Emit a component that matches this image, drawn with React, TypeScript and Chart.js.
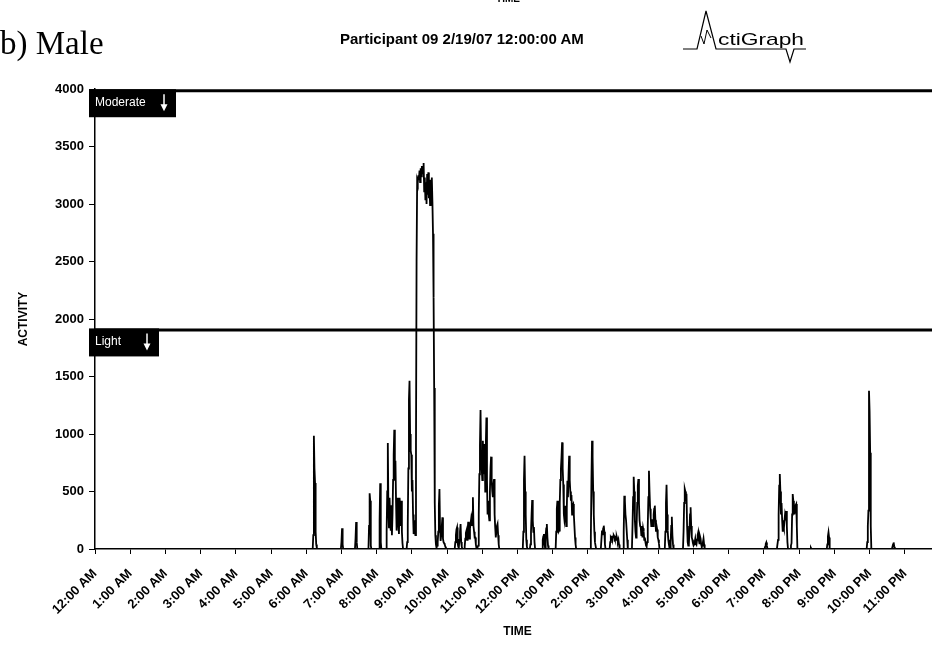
import React, { useEffect, useRef } from "react";
import { Chart, registerables } from "chart.js";

Chart.register(...registerables);

const HOUR_LABELS = [
  "12:00 AM", "1:00 AM", "2:00 AM", "3:00 AM", "4:00 AM", "5:00 AM",
  "6:00 AM", "7:00 AM", "8:00 AM", "9:00 AM", "10:00 AM", "11:00 AM",
  "12:00 PM", "1:00 PM", "2:00 PM", "3:00 PM", "4:00 PM", "5:00 PM",
  "6:00 PM", "7:00 PM", "8:00 PM", "9:00 PM", "10:00 PM", "11:00 PM",
];

const DAY_MINUTES = 1440;
const Y_MAX = 4000;
const Y_STEP = 500;

const LIGHT_CUTPOINT = 1905;
const MODERATE_CUTPOINT = 3985;
const CUTPOINT_LABELS = ["Light", "Moderate"];

// start minute of each burst of activity (1-minute epochs)
const BURST_STARTS = [
  372, 420, 444, 467, 485, 497, 532, 614, 630, 653, 730, 742, 763, 786,
  845, 863, 878, 901, 916, 972, 1003, 1142, 1163, 1186, 1220, 1248, 1316, 1359,
];

// activity counts of each burst, one value per minute
const BURST_COUNTS = [
  [120, 985, 700, 575, 150, 40, 10],
  [60, 180, 40],
  [90, 235, 60],
  [200, 484, 420, 30],
  [250, 571, 60],
  [150, 500, 922, 350, 180, 446, 240, 160, 380, 120, 300, 600, 820, 1037, 600, 768, 420, 160, 300, 446, 220, 130, 446, 380, 200, 420, 150, 50],
  [60, 220, 700, 1300, 1463, 1000, 855, 820, 500, 600, 300, 130, 180, 250, 120, 900,
    2500, 3203, 3180, 3250, 3210, 3290, 3190, 3310, 3240, 3330, 3260, 3300, 3357, 3110,
    3230, 3040, 3190, 3000, 3260, 3080, 3275, 3050, 3170, 2990, 3210, 3070, 3231, 3020,
    2742, 2188, 1400, 400, 120, 40, 10, 30, 60, 150, 380, 522, 180, 70, 120, 200, 275,
    90, 60, 50, 40, 20, 10],
  [60, 120, 170, 188, 50, 20, 10, 80, 150, 217, 60, 20],
  [20, 90, 140, 159, 80, 160, 237, 140, 90, 180, 220, 261, 200, 300, 449, 200, 150, 100, 100, 40, 10],
  [30, 300, 650, 900, 1209, 820, 700, 600, 942, 650, 750, 913, 500, 900, 1144, 600, 300, 420, 300, 250, 500, 700, 803, 600, 500, 450, 550, 609, 300, 188, 100, 150, 200, 217, 120, 40],
  [150, 600, 811, 500, 300, 80, 20],
  [40, 150, 300, 426, 250, 150, 190, 60],
  [80, 110, 130, 40, 10, 120, 180, 217, 100, 30],
  [150, 350, 420, 200, 150, 160, 400, 600, 700, 800, 927, 700, 560, 300, 250, 300, 377, 200, 350, 594, 450, 650, 811, 600, 500, 420, 470, 300, 380, 391, 300, 200, 100, 40],
  [100, 600, 942, 800, 500, 300, 150, 60, 30],
  [80, 160, 120, 180, 203, 150, 40],
  [60, 100, 90, 115, 80, 110, 120, 110, 90, 100, 80, 110, 90, 60, 80, 40],
  [150, 463, 420, 300, 250, 250, 80],
  [200, 450, 629, 500, 250, 150, 100, 200, 400, 550, 609, 400, 250, 200, 190, 120, 200, 100, 180, 150, 80, 100, 60, 30, 20, 60, 200, 450, 681, 500, 350, 270, 200, 250, 250, 200, 300, 350, 377, 250, 150, 200, 170, 100, 80, 50],
  [150, 400, 559, 300, 160, 80, 40, 10, 10, 60, 200, 281, 120, 40],
  [150, 400, 522, 500, 420, 480, 200, 60, 30, 40, 150, 300, 362, 200, 100, 80, 50, 30, 40, 60, 90, 50, 40, 80, 120, 145, 80, 50, 110, 90, 40, 20, 30, 60, 90, 40],
  [20, 45, 57, 30],
  [40, 80, 300, 550, 652, 500, 300, 400, 250, 150, 203, 180, 250, 304, 280, 330, 200, 60],
  [30, 50, 300, 478, 420, 390, 300, 350, 380, 391, 200],
  [10],
  [40, 110, 145, 100],
  [60, 200, 333, 1376, 1200, 836, 200],
  [20, 40, 57, 20],
];

const FONT = '"Liberation Sans", Arial, Helvetica, sans-serif';

function buildActivityPoints() {
  const pts: { x: number; y: number }[] = [{ x: 0, y: 0 }];
  BURST_STARTS.forEach((start, i) => {
    const counts = BURST_COUNTS[i];
    pts.push({ x: start - 1, y: 0 });
    counts.forEach((v, j) => pts.push({ x: start + j, y: v }));
    pts.push({ x: start + counts.length, y: 0 });
  });
  pts.push({ x: DAY_MINUTES, y: 0 });
  return pts;
}

const cutpointLabelPlugin = {
  id: "cutpointLabels",
  afterDatasetsDraw(chart: any) {
    const { ctx, chartArea, scales } = chart;
    const items = [
      { v: MODERATE_CUTPOINT, label: CUTPOINT_LABELS[1], w: 87 },
      { v: LIGHT_CUTPOINT, label: CUTPOINT_LABELS[0], w: 70 },
    ];
    ctx.save();
    items.forEach((it) => {
      const py = scales.y.getPixelForValue(it.v);
      const bx = chartArea.left - 6;
      const by = py - 1.5;
      const bh = 28;
      ctx.fillStyle = "#000";
      ctx.fillRect(bx, by, it.w, bh);
      ctx.fillStyle = "#fff";
      ctx.font = "12px " + FONT;
      ctx.textAlign = "left";
      ctx.textBaseline = "middle";
      ctx.fillText(it.label, bx + 6, by + 13);
      const ax = bx + it.w - 12;
      ctx.strokeStyle = "#fff";
      ctx.lineWidth = 1.5;
      ctx.beginPath();
      ctx.moveTo(ax, by + 5);
      ctx.lineTo(ax, by + 17);
      ctx.stroke();
      ctx.beginPath();
      ctx.moveTo(ax - 3.5, by + 15);
      ctx.lineTo(ax + 3.5, by + 15);
      ctx.lineTo(ax, by + 22);
      ctx.closePath();
      ctx.fill();
    });
    ctx.restore();
  },
};

export default function App() {
  const ref = useRef<HTMLCanvasElement>(null);

  useEffect(() => {
    const canvas = ref.current;
    if (!canvas) return;
    const chart = new Chart(canvas, {
      type: "line",
      data: {
        datasets: [
          {
            label: "Activity",
            data: buildActivityPoints(),
            borderColor: "#000",
            borderWidth: 1.8,
            pointRadius: 0,
            tension: 0,
            fill: false,
          },
          {
            label: CUTPOINT_LABELS[0],
            data: [
              { x: 0, y: LIGHT_CUTPOINT },
              { x: DAY_MINUTES, y: LIGHT_CUTPOINT },
            ],
            borderColor: "#000",
            borderWidth: 3,
            pointRadius: 0,
          },
          {
            label: CUTPOINT_LABELS[1],
            data: [
              { x: 0, y: MODERATE_CUTPOINT },
              { x: DAY_MINUTES, y: MODERATE_CUTPOINT },
            ],
            borderColor: "#000",
            borderWidth: 3,
            pointRadius: 0,
            clip: 6,
          } as any,
        ],
      },
      options: {
        animation: false,
        responsive: false,
        devicePixelRatio: 1,
        layout: { padding: { top: 89, left: 0, right: 0, bottom: 0 } },
        plugins: {
          legend: { display: false },
          tooltip: { enabled: false },
        },
        scales: {
          x: {
            type: "linear",
            min: 0,
            max: DAY_MINUTES,
            afterFit: (s: any) => {
              s.height = 96;
              s.paddingLeft = 0;
              s.paddingRight = 0;
            },
            ticks: {
              stepSize: 60,
              autoSkip: false,
              maxRotation: 45,
              minRotation: 45,
              padding: 12,
              color: "#000",
              font: { family: FONT, size: 13, weight: "bold" },
              callback: (v: any) => {
                const i = Math.round(Number(v) / 60);
                return i < HOUR_LABELS.length ? HOUR_LABELS[i] : "";
              },
            },
            grid: {
              drawOnChartArea: false,
              drawTicks: true,
              tickLength: 5,
              color: "#000",
              tickColor: "#000",
            },
            border: { display: true, color: "#000", width: 1.5 },
            title: {
              display: true,
              text: "TIME",
              color: "#000",
              font: { family: FONT, size: 12, weight: "bold" },
              padding: { top: 0, bottom: 6 },
            },
          },
          y: {
            min: 0,
            max: Y_MAX,
            afterFit: (s: any) => {
              s.width = 95;
            },
            ticks: {
              stepSize: Y_STEP,
              padding: 5,
              color: "#000",
              font: { family: FONT, size: 13, weight: "bold" },
              callback: (v: any) => String(v),
            },
            grid: {
              drawOnChartArea: false,
              drawTicks: true,
              tickLength: 6,
              color: "#000",
              tickColor: "#000",
            },
            border: { display: true, color: "#000", width: 1.5 },
            title: {
              display: true,
              text: "ACTIVITY",
              color: "#000",
              font: { family: FONT, size: 12, weight: "bold" },
              padding: { top: 16, bottom: 0 },
            },
          },
        },
      },
      plugins: [cutpointLabelPlugin],
    });
    return () => chart.destroy();
  }, []);

  return (
    <div
      style={{
        position: "fixed",
        left: 0,
        top: 0,
        width: 932,
        height: 645,
        overflow: "hidden",
        background: "#fff",
      }}
    >
      <canvas
        ref={ref}
        width={940}
        height={645}
        style={{ position: "absolute", left: 0, top: 0, width: 940, height: 645 }}
      />
      <div
        style={{
          position: "absolute",
          left: 508,
          top: -7,
          transform: "translateX(-50%)",
          font: "bold 10px " + FONT,
          lineHeight: "12px",
          color: "#000",
        }}
      >
        TIME
      </div>
      <div
        style={{
          position: "absolute",
          left: 0,
          top: 27,
          font: '33px "Liberation Serif", "Times New Roman", serif',
          lineHeight: 1,
          color: "#000",
          whiteSpace: "nowrap",
        }}
      >
        b) Male
      </div>
      <div
        style={{
          position: "absolute",
          left: 340,
          top: 31,
          font: "bold 15px " + FONT,
          lineHeight: 1,
          color: "#000",
          whiteSpace: "nowrap",
        }}
      >
        Participant 09 2/19/07 12:00:00 AM
      </div>
      <svg
        width={932}
        height={80}
        style={{ position: "absolute", left: 0, top: 0, pointerEvents: "none" }}
      >
        <polyline
          points="683,49 697,49 706,11 716,49 786,49 790,62 794,49 806,49"
          fill="none"
          stroke="#000"
          strokeWidth={1.2}
        />
        <polyline points="701,36 704,44 707,30 711,38" fill="none" stroke="#000" strokeWidth={1} />
        <text
          x={718}
          y={45}
          fontFamily={FONT}
          fontSize={17}
          textLength={86}
          lengthAdjust="spacingAndGlyphs"
          fill="#000"
        >
          ctiGraph
        </text>
      </svg>
    </div>
  );
}
